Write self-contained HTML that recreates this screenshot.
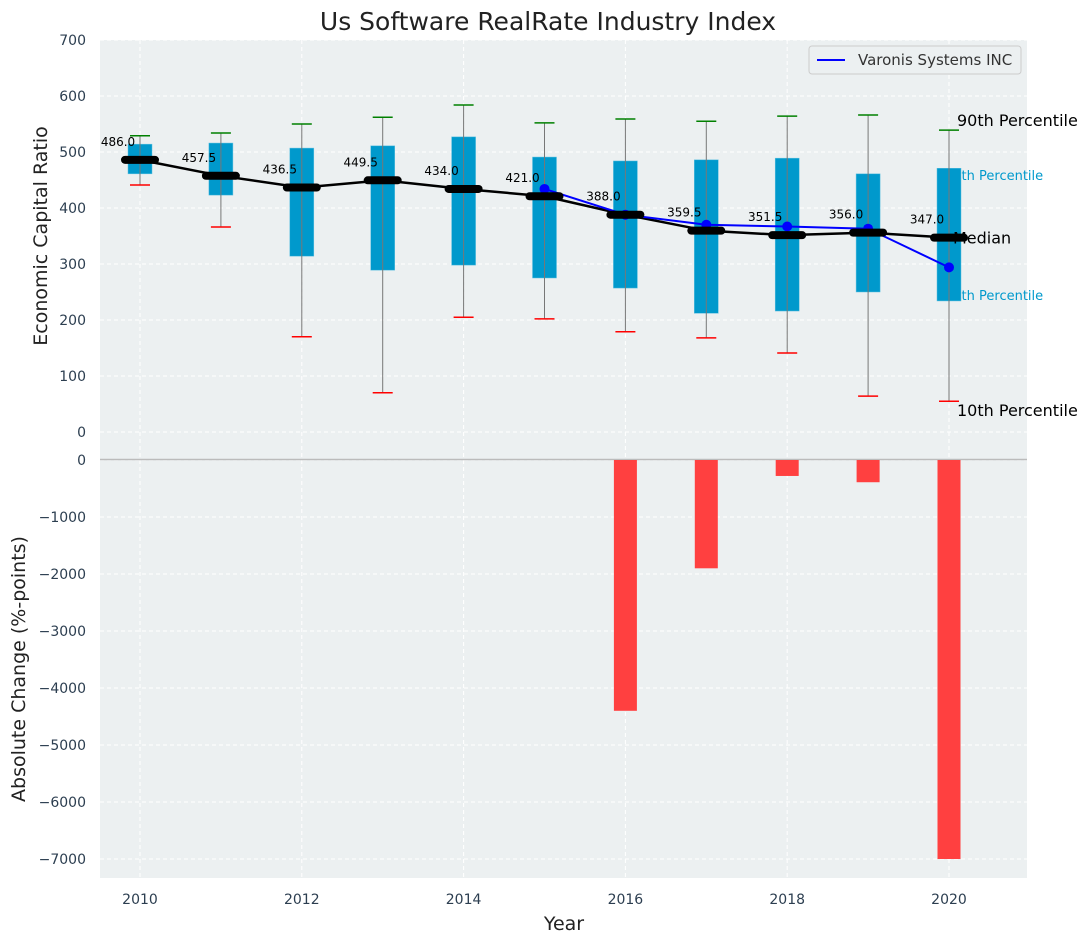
<!DOCTYPE html>
<html><head><meta charset="utf-8"><style>
body{margin:0;background:#fff;}
svg text{font-family:"DejaVu Sans","Liberation Sans",sans-serif;}
</style></head><body>
<svg id="c" width="1092" height="942" xmlns="http://www.w3.org/2000/svg"></svg>
<script>
const years=[2010,2011,2012,2013,2014,2015,2016,2017,2018,2019,2020];
const p10=[441,366,170,70,205,202,179,168,141,64,55];
const q25=[461,423,314,289,298,275,257,212,216,250,234];
const medians=[486.0,457.5,436.5,449.5,434.0,421.0,388.0,359.5,351.5,356.0,347.0];
const q75=[514,516,507,511,527,491,484,486,489,461,471];
const p90=[529,534,550,562,584,552,559,555,564,566,539];
const compYears=[2015,2016,2017,2018,2019,2020];
const compVals=[434,388,370,367,363,294];
const chgYears=[2016,2017,2018,2019,2020];
const chgVals=[-4400,-1900,-280,-390,-7000];
const topTicks=[0,100,200,300,400,500,600,700];
const botTicks=[0,-1000,-2000,-3000,-4000,-5000,-6000,-7000];
const xTicks=[2010,2012,2014,2016,2018,2020];

const NS="http://www.w3.org/2000/svg";
const svg=document.getElementById('c');
function mk(tag,attrs,parent,name,inter){const e=document.createElementNS(NS,tag);for(const k in attrs)e.setAttribute(k,attrs[k]);


(parent||svg).appendChild(e);return e;}
function txt(s,attrs,name){const e=mk('text',attrs,svg,name,false);e.textContent=s;return e;}
const X=v=>140+(v-2010)*80.9;
const YT=v=>432-v*0.56;
const YB=v=>460-v*0.057;
const L=100,R=1027;
mk('rect',{x:L,y:40,width:R-L,height:419,fill:'#ecf0f1'},svg,'top-plot-area');
mk('rect',{x:L,y:460,width:R-L,height:418,fill:'#ecf0f1'},svg,'bottom-plot-area');
topTicks.forEach(t=>{mk('line',{x1:L,x2:R,y1:YT(t),y2:YT(t),stroke:'#fff','stroke-dasharray':'4,3','stroke-width':1},svg,'top-grid-line');
txt(String(t),{x:86,y:YT(t)+5,'text-anchor':'end','font-size':14,fill:'#2c3e50'},'top-y-tick-label');});
botTicks.forEach(t=>{mk('line',{x1:L,x2:R,y1:YB(t),y2:YB(t),stroke:'#fff','stroke-dasharray':'4,3','stroke-width':1},svg,'bottom-grid-line');
txt(t===0?'0':'\u2212'+Math.abs(t),{x:86,y:YB(t)+5,'text-anchor':'end','font-size':14,fill:'#2c3e50'},'bottom-y-tick-label');});
xTicks.forEach(t=>{mk('line',{x1:X(t),x2:X(t),y1:40,y2:459,stroke:'#fff','stroke-dasharray':'4,3'},svg,'top-x-grid-line');
mk('line',{x1:X(t),x2:X(t),y1:460,y2:878,stroke:'#fff','stroke-dasharray':'4,3'},svg,'bottom-x-grid-line');
txt(String(t),{x:X(t),y:904,'text-anchor':'middle','font-size':14,fill:'#2c3e50'},'x-tick-label');});
mk('line',{x1:L,x2:R,y1:459.5,y2:459.5,stroke:'#bbb','stroke-width':1.5},svg,'panel-divider');
txt('75th Percentile',{x:945,y:180,'font-size':13,fill:'#0099cc'},'q75-label');
txt('25th Percentile',{x:945,y:300,'font-size':13,fill:'#0099cc'},'q25-label');
years.forEach((y,i)=>{const x=X(y);
mk('rect',{x:x-12,y:YT(q75[i]),width:24,height:YT(q25[i])-YT(q75[i]),fill:'#0099cc',stroke:'#5fc0e0','stroke-width':0.5},svg,'iqr-box-'+y);
mk('line',{x1:x,x2:x,y1:YT(p90[i]),y2:YT(p10[i]),stroke:'#777','stroke-width':1},svg,'whisker-'+y);
mk('line',{x1:x-10,x2:x+10,y1:YT(p90[i]),y2:YT(p90[i]),stroke:'green','stroke-width':1.5},svg,'p90-cap-'+y);
mk('line',{x1:x-10,x2:x+10,y1:YT(p10[i]),y2:YT(p10[i]),stroke:'red','stroke-width':1.5},svg,'p10-cap-'+y);
});
mk('polyline',{points:years.map((y,i)=>X(y)+','+YT(medians[i])).join(' '),fill:'none',stroke:'#000','stroke-width':2.5},svg,'median-line');
mk('polyline',{points:compYears.map((y,i)=>X(y)+','+YT(compVals[i])).join(' '),fill:'none',stroke:'#0000ff','stroke-width':2},svg,'company-line');
compYears.forEach((y,i)=>mk('circle',{cx:X(y),cy:YT(compVals[i]),r:5,fill:'#0000ff'},svg,'company-point-'+y));
years.forEach((y,i)=>{const x=X(y);
mk('line',{x1:x-15,x2:x+15,y1:YT(medians[i]),y2:YT(medians[i]),stroke:'#000','stroke-width':8,'stroke-linecap':'round'},svg,'median-marker-'+y);
txt(medians[i].toFixed(1),{x:x-22,y:YT(medians[i])-14,'text-anchor':'middle','font-size':12,fill:'#000'},'median-value-label');
});
txt('90th Percentile',{x:957,y:YT(539)-4,'font-size':16,fill:'#000'},'p90-label');
txt('Median',{x:953,y:YT(347)+6,'font-size':16,fill:'#000'},'median-label');
txt('10th Percentile',{x:957,y:YT(55)+15,'font-size':16,fill:'#000'},'p10-label');
chgYears.forEach((y,i)=>{const v=chgVals[i];
mk('rect',{x:X(y)-11.5,y:YB(0),width:23,height:YB(v)-YB(0),fill:'#ff4040'},svg,'change-bar-'+y);});
mk('rect',{x:809,y:46,width:212,height:28,rx:3,fill:'#ecf0f1',stroke:'#ccc'},svg,'legend',false);
mk('line',{x1:817,x2:845,y1:60,y2:60,stroke:'#0000ff','stroke-width':2},svg,'legend-line-swatch');
txt('Varonis Systems INC',{x:858,y:65,'font-size':15,fill:'#333'},'legend-label');
txt('Us Software RealRate Industry Index',{x:548,y:30,'text-anchor':'middle','font-size':25,fill:'#222'},'chart-title');
txt('Year',{x:564,y:930,'text-anchor':'middle','font-size':19,fill:'#222'},'x-axis-title');
txt('Economic Capital Ratio',{x:0,y:0,transform:'translate(47,236) rotate(-90)','text-anchor':'middle','font-size':19,fill:'#222'},'top-y-axis-title');
txt('Absolute Change (%-points)',{x:0,y:0,transform:'translate(25,669) rotate(-90)','text-anchor':'middle','font-size':19,fill:'#222'},'bottom-y-axis-title');
</script>
</body></html>
